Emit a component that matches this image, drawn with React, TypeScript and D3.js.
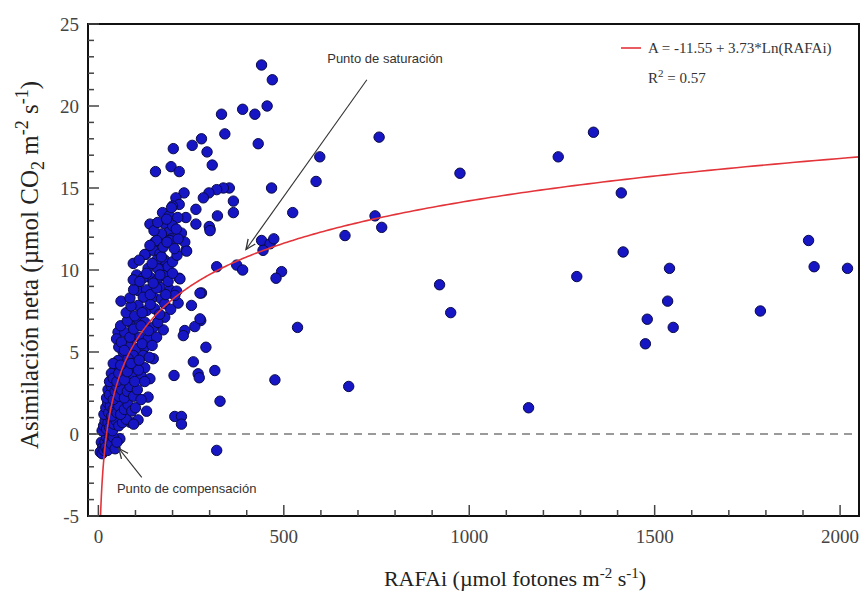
import React from 'react';
import * as d3 from 'd3';

const W = 861;
const H = 597;
const plot = { left: 88, right: 859, top: 24, bottom: 516 };

// [RAFAi (µmol fotones m-2 s-1), Asimilación neta (µmol CO2 m-2 s-1)]
const observations: [number, number][] = [
  // sparse / upper points
  [440, 22.5], [469, 21.6], [455, 20.0], [422, 19.5], [389, 19.8], [332, 19.5], [341, 18.3], [431, 17.7],
  [278, 18.0], [253, 17.6], [202, 17.4], [293, 17.2], [307, 16.4], [154, 16.0], [196, 16.3], [218, 16.0],
  [467, 15.0], [597, 16.9], [587, 15.4], [757, 18.1], [975, 15.9], [524, 13.5], [665, 12.1], [746, 13.3],
  [764, 12.6], [364, 13.5], [321, 13.3], [301, 12.5], [353, 15.0], [337, 15.0], [319, 14.9], [298, 14.7],
  [283, 14.4], [364, 14.2], [263, 13.7], [263, 12.8], [231, 14.7], [209, 14.4], [218, 14.0], [200, 13.9],
  [173, 13.5], [191, 13.3], [236, 13.2], [139, 12.8], [214, 13.2], [177, 12.85], [190, 12.3], [169, 12.1],
  [152, 11.7], [197, 11.9], [220, 11.9], [224, 12.25], [236, 11.2], [128, 10.95], [94, 10.4], [103, 9.7],
  [134, 10.1], [161, 10.5], [182, 10.1], [218, 9.5], [319, 10.2], [373, 10.3], [389, 10.0], [440, 11.8],
  [463, 11.6], [473, 11.9], [444, 11.2], [494, 9.9], [479, 9.5], [278, 8.6], [61, 8.1],
  [299, 12.65], [301, 12.4], [170, 12.2], [157, 11.8], [233, 11.7], [193, 11.8], [215, 11.9], [148, 11.2],
  [166, 11.0], [238, 11.15], [125, 10.95], [179, 10.6], [157, 10.6], [188, 10.2], [161, 10.07], [139, 9.56],
  [121, 9.52], [175, 9.66], [157, 9.36], [220, 9.46], [107, 8.75], [130, 8.79], [166, 8.95], [193, 8.79],
  [211, 8.71], [274, 8.59], [121, 8.34], [148, 8.34], [170, 8.24],
  [107, 7.84], [130, 7.53], [152, 7.63], [179, 7.94], [215, 7.98], [206, 8.45], [251, 7.84], [179, 7.12],
  [276, 6.92], [260, 6.55], [85, 6.82], [107, 7.02], [125, 6.82], [148, 6.51], [175, 6.35], [53, 6.21],
  [71, 6.21], [49, 5.8], [90, 5.8], [112, 5.9], [134, 5.8], [157, 5.9], [233, 6.31], [229, 6.0], [80, 5.4],
  [103, 5.2], [125, 5.29], [67, 4.99], [94, 4.79], [121, 4.79], [148, 4.59], [53, 4.48], [45, 3.98],
  [71, 4.12], [98, 4.18], [125, 4.04], [62, 3.57], [90, 3.67], [116, 3.51], [256, 4.4], [204, 3.57], [269, 3.67],
  [274, 7.02], [290, 5.29], [314, 3.87], [272, 3.43], [476, 3.3], [328, 2.0], [206, 1.07], [224, 1.07],
  [224, 0.6], [319, -1.0], [134, 2.25], [130, 1.39], [137, 4.68], [139, 3.37], [107, 0.86], [85, 0.72],
  [58, -0.29], [537, 6.5], [9, -1.0], [13, -0.6], [8, -0.5], [12, -0.8], [44, 3.67], [675, 2.9],
  // dense band near the origin
  [5, -1.1], [10, -1.2], [15, -1.0], [18, -0.5], [20, -0.8], [22, -0.2], [25, -1.0], [28, -0.4], [30, 0.0],
  [35, -0.6], [40, -0.2], [45, -0.9], [50, -0.5],
  [10, 0.2], [14, 0.5], [18, 0.8], [22, 0.3], [26, 0.7], [30, 0.4], [34, 0.9], [38, 0.2], [42, 0.6], [48, 0.8],
  [55, 0.5], [65, 0.7], [75, 0.9], [95, 0.6],
  [15, 1.2], [20, 1.6], [25, 1.9], [28, 1.3], [32, 1.7], [36, 1.1], [40, 1.5], [45, 1.9], [50, 1.3], [55, 1.7],
  [60, 1.2], [70, 1.5], [80, 1.8], [90, 1.4], [100, 1.6],
  [22, 2.2], [26, 2.7], [30, 2.4], [35, 2.9], [40, 2.1], [45, 2.6], [50, 2.9], [55, 2.3], [62, 2.7], [70, 2.2],
  [78, 2.6], [85, 2.9], [95, 2.3], [105, 2.7], [115, 2.1],
  [30, 3.2], [35, 3.7], [40, 3.4], [50, 3.2], [55, 3.7], [70, 3.3], [78, 3.8], [98, 3.2], [108, 3.9], [125, 3.2],
  [40, 4.3], [60, 4.2], [80, 4.6], [88, 4.3], [110, 4.5],
  [55, 5.3], [62, 5.6], [70, 5.1], [85, 5.9], [118, 5.5], [145, 5.4],
  [60, 6.6], [78, 6.9], [95, 6.4], [115, 6.6], [135, 6.3], [160, 6.8],
  [75, 7.4], [88, 7.8], [98, 7.2], [118, 7.4], [140, 7.9], [165, 7.3], [195, 7.6],
  [85, 8.3], [95, 8.8], [140, 8.5], [157, 8.9], [182, 8.5],
  [94, 9.4], [112, 9.3], [130, 9.8], [148, 9.2], [166, 9.7], [188, 9.3], [200, 9.8],
  [110, 10.6], [145, 10.4], [170, 10.8], [200, 10.5], [212, 10.9],
  [139, 11.5], [175, 11.4], [185, 11.7], [205, 11.3],
  [150, 12.4], [160, 12.9], [200, 12.7], [210, 12.5], [184, 13.1], [197, 13.8],
  // high-light points
  [1160, 1.6], [1290, 9.6], [1240, 16.9], [1335, 18.4], [1410, 14.7], [1415, 11.1], [1475, 5.5], [1480, 7.0],
  [1535, 8.1], [1540, 10.1], [1550, 6.5], [1785, 7.5], [1915, 11.8], [1930, 10.2], [2020, 10.1], [920, 9.1],
  [950, 7.4],
];

// A = a + b * ln(RAFAi)
const fitA = -11.55;
const fitB = 3.73;

const xTicks = d3.range(0, 2001, 100);
const yTicks = d3.range(-5, 26, 1);
const xLabels = [0, 500, 1000, 1500, 2000];
const yLabels = [-5, 0, 5, 10, 15, 20, 25];

const x = d3.scaleLinear().domain([-28, 2051]).range([plot.left, plot.right]);
const y = d3.scaleLinear().domain([-5, 25]).range([plot.bottom, plot.top]);

const serif = "'Liberation Serif', 'Times New Roman', serif";
const sans = "'Liberation Sans', Arial, sans-serif";

export default function App() {
  const xStart = Math.exp((-5 - fitA) / fitB);
  const samples = d3.range(0, 401).map(i => xStart * Math.pow(2051 / xStart, i / 400));
  const curve = d3
    .line<number>()
    .x(d => x(d))
    .y(d => y(fitA + fitB * Math.log(d)))(samples);

  return (
    <svg
      width={W}
      height={H}
      style={{ position: 'absolute', left: 0, top: 0, background: '#fff' }}
    >
      <defs>
        <clipPath id="plot-clip">
          <rect x={plot.left} y={plot.top} width={plot.right - plot.left} height={plot.bottom - plot.top} />
        </clipPath>
        <marker id="open-arrow" viewBox="0 0 10 10" refX="9" refY="5" markerWidth="11" markerHeight="11"
          markerUnits="userSpaceOnUse" orient="auto">
          <path d="M0,1 L9,5 L0,9" fill="none" stroke="#333" strokeWidth="1.2" />
        </marker>
      </defs>

      {/* zero line */}
      <line x1={plot.left} x2={plot.right} y1={y(0)} y2={y(0)} stroke="#9a9a9a" strokeWidth={2} strokeDasharray="8,6" />

      <g clipPath="url(#plot-clip)">
        {observations.map(([r, a], i) => (
          <circle key={i} cx={x(r)} cy={y(a)} r={5.2} fill="#1616c4" stroke="#0a0a4a" strokeWidth={1} />
        ))}
        <path d={curve || ''} fill="none" stroke="#e3343a" strokeWidth={1.6} />
      </g>

      {/* frame */}
      <rect x={plot.left} y={plot.top} width={plot.right - plot.left} height={plot.bottom - plot.top}
        fill="none" stroke="#111" strokeWidth={2} />

      {/* ticks */}
      {yTicks.map(t => {
        const len = t % 5 === 0 ? 11 : 6;
        return <line key={'yt' + t} x1={plot.left} x2={plot.left + len} y1={y(t)} y2={y(t)} stroke="#444" strokeWidth={1.5} />;
      })}
      {xTicks.map(t => {
        const len = t % 500 === 0 ? 11 : 6;
        return <line key={'xt' + t} x1={x(t)} x2={x(t)} y1={plot.bottom} y2={plot.bottom - len} stroke="#444" strokeWidth={1.5} />;
      })}

      {/* tick labels */}
      {yLabels.map(t => (
        <text key={'yl' + t} x={79} y={y(t)} dy="0.35em" textAnchor="end" fontFamily={serif} fontSize={19} fill="#444">
          {t}
        </text>
      ))}
      {xLabels.map(t => (
        <text key={'xl' + t} x={x(t)} y={543} textAnchor="middle" fontFamily={serif} fontSize={19} fill="#444">
          {t}
        </text>
      ))}

      {/* axis titles */}
      <text x={515} y={586} textAnchor="middle" fontFamily={serif} fontSize={22} fill="#222">
        RAFAi (µmol fotones m<tspan dy={-8} fontSize={15}>-2</tspan>
        <tspan dy={8}> s</tspan><tspan dy={-8} fontSize={15}>-1</tspan><tspan dy={8}>)</tspan>
      </text>
      <text transform="translate(38,265) rotate(-90)" textAnchor="middle" fontFamily={serif} fontSize={25} fill="#222">
        Asimilación neta (µmol CO<tspan dy={6} fontSize={18}>2</tspan>
        <tspan dy={-6}> m</tspan><tspan dy={-10} fontSize={18}>-2</tspan>
        <tspan dy={10}> s</tspan><tspan dy={-10} fontSize={18}>-1</tspan><tspan dy={10}>)</tspan>
      </text>

      {/* legend */}
      <line x1={621} x2={641} y1={48} y2={48} stroke="#e3343a" strokeWidth={1.6} />
      <text x={648} y={53} fontFamily={serif} fontSize={15} fill="#333">
        A = -11.55 + 3.73*Ln(RAFAi)
      </text>
      <text x={648} y={83} fontFamily={serif} fontSize={15} fill="#333">
        R<tspan dy={-6} fontSize={11}>2</tspan><tspan dy={6}> = 0.57</tspan>
      </text>

      {/* annotations */}
      <text x={x(773)} y={y(22.6)} textAnchor="middle" fontFamily={sans} fontSize={13} fill="#333">
        Punto de saturación
      </text>
      <line x1={x(724)} y1={y(21.6)} x2={x(398)} y2={y(11.25)} stroke="#333" strokeWidth={1.1} markerEnd="url(#open-arrow)" />
      <text x={x(50)} y={y(-3.57)} fontFamily={sans} fontSize={13} fill="#333">
        Punto de compensación
      </text>
      <line x1={x(117)} y1={y(-2.65)} x2={x(55)} y2={y(-0.88)} stroke="#333" strokeWidth={1.1} markerEnd="url(#open-arrow)" />
    </svg>
  );
}
